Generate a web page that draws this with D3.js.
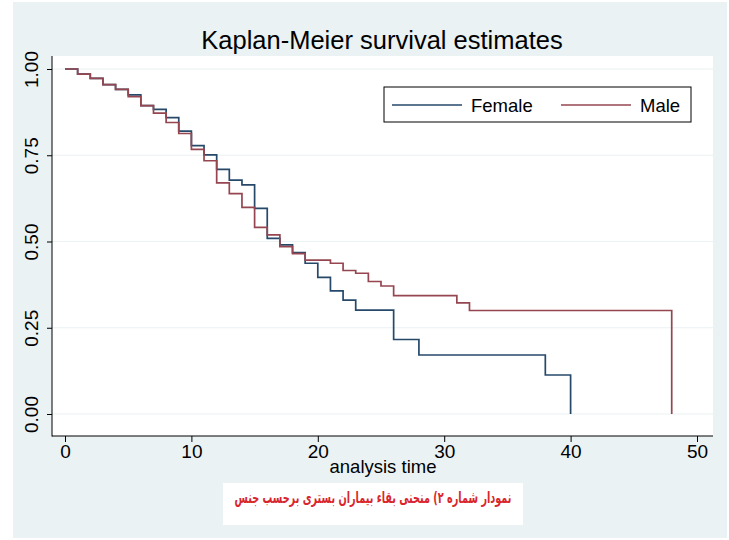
<!DOCTYPE html>
<html>
<head>
<meta charset="utf-8">
<script src="https://cdn.jsdelivr.net/npm/d3@7"></script>
<style>
  body { margin: 0; background: #fff; }
  svg { display: block; }
</style>
</head>
<body>
<svg id="km" width="729" height="540"></svg>
<script>
const fontFamily = "'Liberation Sans', Arial, sans-serif";

// Kaplan-Meier step data
const femaleTimes = [0, 1, 2, 3, 4, 5, 6, 7, 8, 9, 10, 11, 12, 13, 14, 15, 16, 17, 18, 19, 20, 21, 22, 23, 26, 28, 38, 40];
const femaleSurv  = [1, .985, .973, .955, .941, .925, .894, .883, .859, .820, .778, .751, .709, .678, .664, .596, .509, .49, .468, .437, .396, .357, .330, .301, .216, .171, .113, 0];

const maleTimes = [0, 1, 2, 3, 4, 5, 6, 7, 8, 9, 10, 11, 12, 13, 14, 15, 16, 17, 18, 19, 21, 22, 23, 24, 25, 26, 31, 32, 48];
const maleSurv  = [1, .985, .973, .955, .941, .920, .894, .872, .845, .813, .767, .734, .670, .639, .599, .541, .519, .485, .465, .446, .437, .416, .408, .384, .371, .343, .322, .300, 0];

const xTicks = [0, 10, 20, 30, 40, 50];
const yTicks = [0, 0.25, 0.5, 0.75, 1];
const seriesNames = ["Female", "Male"];
const seriesColors = ["#26496a", "#954650"];

const titleText = "Kaplan-Meier survival estimates";
const xLabel = "analysis time";
const captionText = "نمودار شماره ۲)  منحنی بقاء بیماران بستری برحسب جنس";

const svg = d3.select("#km");

// Graph region (light blue-grey) and plot region (white)
svg.append("rect")
  .attr("x", 13).attr("y", 2)
  .attr("width", 714).attr("height", 536)
  .attr("fill", "#eaf2f3");

const plot = { left: 52, right: 713, top: 56, bottom: 436 };
svg.append("rect")
  .attr("x", plot.left).attr("y", plot.top)
  .attr("width", plot.right - plot.left).attr("height", plot.bottom - plot.top)
  .attr("fill", "#fff");

const x = d3.scaleLinear().domain([0, 50]).range([65, 697]);
const y = d3.scaleLinear().domain([0, 1]).range([414, 69]);

// Grid lines
svg.append("g")
  .selectAll("line")
  .data(yTicks)
  .enter()
  .append("line")
  .attr("x1", plot.left).attr("x2", plot.right)
  .attr("y1", d => y(d)).attr("y2", d => y(d))
  .attr("stroke", "#eaf2f3")
  .attr("stroke-width", 1.2);

// Y axis
const yAxis = svg.append("g")
  .attr("transform", `translate(${plot.left},0)`)
  .call(d3.axisLeft(y).tickValues(yTicks).tickSize(5).tickSizeOuter(0).tickFormat(d3.format(".2f")));
yAxis.select(".domain").remove();
yAxis.append("line")
  .attr("x1", 0).attr("x2", 0)
  .attr("y1", plot.top).attr("y2", plot.bottom + 0.5)
  .attr("stroke", "#000");
yAxis.selectAll(".tick line").attr("stroke", "#000");
yAxis.selectAll(".tick text")
  .attr("font-family", fontFamily)
  .attr("font-size", "19px")
  .attr("fill", "#000")
  .attr("text-anchor", "middle")
  .attr("transform", "rotate(-90)")
  .attr("x", 0)
  .attr("y", -14.5)
  .attr("dy", "0");

// X axis
const xAxis = svg.append("g")
  .attr("transform", `translate(0,${plot.bottom})`)
  .call(d3.axisBottom(x).tickValues(xTicks).tickSize(6).tickSizeOuter(0).tickFormat(d3.format("d")));
xAxis.select(".domain").remove();
xAxis.append("line")
  .attr("x1", plot.left).attr("x2", plot.right)
  .attr("y1", 0).attr("y2", 0)
  .attr("stroke", "#000");
xAxis.selectAll(".tick line").attr("stroke", "#000");
xAxis.selectAll(".tick text")
  .attr("font-family", fontFamily)
  .attr("font-size", "19px")
  .attr("fill", "#000")
  .attr("y", 22)
  .attr("dy", "0");

svg.append("text")
  .attr("x", 383).attr("y", 473)
  .attr("text-anchor", "middle")
  .attr("font-family", fontFamily)
  .attr("font-size", "18.5px")
  .attr("fill", "#000")
  .text(xLabel);

// Title
svg.append("text")
  .attr("x", 382).attr("y", 49)
  .attr("text-anchor", "middle")
  .attr("font-family", fontFamily)
  .attr("font-size", "25.5px")
  .attr("fill", "#000")
  .text(titleText);

// Survival curves
const line = d3.line()
  .x(d => x(d[0]))
  .y(d => y(d[1]))
  .curve(d3.curveStepAfter);

const series = [
  d3.zip(femaleTimes, femaleSurv),
  d3.zip(maleTimes, maleSurv)
];

svg.append("g")
  .selectAll("path")
  .data(series)
  .enter()
  .append("path")
  .attr("d", line)
  .attr("fill", "none")
  .attr("stroke", (d, i) => seriesColors[i])
  .attr("stroke-width", 1.7);

// Legend
const legend = svg.append("g")
  .attr("transform", "translate(384,87)");
legend.append("rect")
  .attr("width", 307).attr("height", 35)
  .attr("fill", "#fff")
  .attr("stroke", "#000")
  .attr("stroke-width", 1);
const legendX = [8, 177];
seriesNames.forEach((name, i) => {
  legend.append("line")
    .attr("x1", legendX[i]).attr("x2", legendX[i] + 70)
    .attr("y1", 18).attr("y2", 18)
    .attr("stroke", seriesColors[i])
    .attr("stroke-width", 1.6);
  legend.append("text")
    .attr("x", legendX[i] + 79).attr("y", 24.5)
    .attr("font-family", fontFamily)
    .attr("font-size", "18.5px")
    .attr("fill", "#000")
    .text(name);
});

// Caption box
svg.append("rect")
  .attr("x", 223).attr("y", 483)
  .attr("width", 300).attr("height", 42)
  .attr("fill", "#fff");
svg.append("text")
  .attr("x", 373).attr("y", 503)
  .attr("text-anchor", "middle")
  .attr("direction", "rtl")
  .attr("font-family", "'DejaVu Sans', 'Noto Sans', sans-serif")
  .attr("font-size", "16px")
  .attr("font-weight", "bold")
  .attr("textLength", 277)
  .attr("lengthAdjust", "spacingAndGlyphs")
  .attr("fill", "#d9262c")
  .text(captionText);
</script>
</body>
</html>
